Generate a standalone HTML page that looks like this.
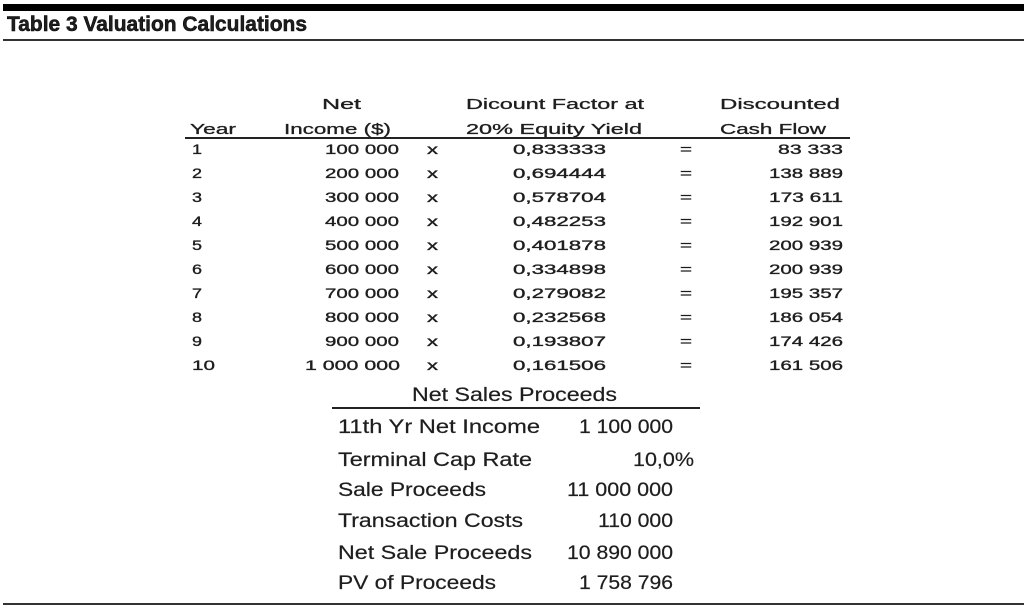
<!DOCTYPE html>
<html><head><meta charset="utf-8"><style>
html,body{margin:0;padding:0;background:#fff;}
svg{display:block;}
.t{font-family:"Liberation Sans",sans-serif;fill:#1e1e1e;}
.u{font-size:14px;stroke:#1e1e1e;stroke-width:0.35px;}
.h{font-size:15px;stroke:#1e1e1e;stroke-width:0.3px;}
.l{font-size:19px;stroke:#1e1e1e;stroke-width:0.2px;}
</style></head><body>
<svg width="1024" height="612" viewBox="0 0 1024 612" xmlns="http://www.w3.org/2000/svg">
<rect x="3" y="4" width="1021" height="7" fill="#000"/>
<text class="t" x="7" y="31" font-size="21" font-weight="bold" textLength="300" lengthAdjust="spacingAndGlyphs" fill="#000" stroke="#000" stroke-width="0.5">Table 3 Valuation Calculations</text>
<rect x="3" y="39" width="1021" height="2" fill="#333"/>

<!-- headers -->
<g class="t h">
<text x="322" y="109" textLength="39" lengthAdjust="spacingAndGlyphs">Net</text>
<text x="466" y="109" textLength="178" lengthAdjust="spacingAndGlyphs">Dicount Factor at</text>
<text x="720" y="109" textLength="120" lengthAdjust="spacingAndGlyphs">Discounted</text>
<text x="190" y="134" textLength="46" lengthAdjust="spacingAndGlyphs">Year</text>
<text x="284" y="134" textLength="107" lengthAdjust="spacingAndGlyphs">Income ($)</text>
<text x="466" y="134" textLength="176" lengthAdjust="spacingAndGlyphs">20% Equity Yield</text>
<text x="720" y="134" textLength="106" lengthAdjust="spacingAndGlyphs">Cash Flow</text>
</g>
<rect x="185" y="137" width="665" height="2" fill="#222"/>

<g class="t u">
<text x="192" y="154" textLength="10" lengthAdjust="spacingAndGlyphs">1</text>
<text x="192" y="178" textLength="10" lengthAdjust="spacingAndGlyphs">2</text>
<text x="192" y="202" textLength="10" lengthAdjust="spacingAndGlyphs">3</text>
<text x="192" y="226" textLength="10" lengthAdjust="spacingAndGlyphs">4</text>
<text x="192" y="250" textLength="10" lengthAdjust="spacingAndGlyphs">5</text>
<text x="192" y="274" textLength="10" lengthAdjust="spacingAndGlyphs">6</text>
<text x="192" y="298" textLength="10" lengthAdjust="spacingAndGlyphs">7</text>
<text x="192" y="322" textLength="10" lengthAdjust="spacingAndGlyphs">8</text>
<text x="192" y="346" textLength="10" lengthAdjust="spacingAndGlyphs">9</text>
<text x="192" y="370" textLength="23" lengthAdjust="spacingAndGlyphs">10</text>

<text x="325" y="154" textLength="74" lengthAdjust="spacingAndGlyphs">100 000</text>
<text x="325" y="178" textLength="74" lengthAdjust="spacingAndGlyphs">200 000</text>
<text x="325" y="202" textLength="74" lengthAdjust="spacingAndGlyphs">300 000</text>
<text x="325" y="226" textLength="74" lengthAdjust="spacingAndGlyphs">400 000</text>
<text x="325" y="250" textLength="74" lengthAdjust="spacingAndGlyphs">500 000</text>
<text x="325" y="274" textLength="74" lengthAdjust="spacingAndGlyphs">600 000</text>
<text x="325" y="298" textLength="74" lengthAdjust="spacingAndGlyphs">700 000</text>
<text x="325" y="322" textLength="74" lengthAdjust="spacingAndGlyphs">800 000</text>
<text x="325" y="346" textLength="74" lengthAdjust="spacingAndGlyphs">900 000</text>
<text x="305" y="370" textLength="95" lengthAdjust="spacingAndGlyphs">1 000 000</text>

<text x="427" y="154" textLength="11" lengthAdjust="spacingAndGlyphs">x</text>
<text x="427" y="178" textLength="11" lengthAdjust="spacingAndGlyphs">x</text>
<text x="427" y="202" textLength="11" lengthAdjust="spacingAndGlyphs">x</text>
<text x="427" y="226" textLength="11" lengthAdjust="spacingAndGlyphs">x</text>
<text x="427" y="250" textLength="11" lengthAdjust="spacingAndGlyphs">x</text>
<text x="427" y="274" textLength="11" lengthAdjust="spacingAndGlyphs">x</text>
<text x="427" y="298" textLength="11" lengthAdjust="spacingAndGlyphs">x</text>
<text x="427" y="322" textLength="11" lengthAdjust="spacingAndGlyphs">x</text>
<text x="427" y="346" textLength="11" lengthAdjust="spacingAndGlyphs">x</text>
<text x="427" y="370" textLength="11" lengthAdjust="spacingAndGlyphs">x</text>

<text x="513" y="154" textLength="93" lengthAdjust="spacingAndGlyphs">0,833333</text>
<text x="513" y="178" textLength="93" lengthAdjust="spacingAndGlyphs">0,694444</text>
<text x="513" y="202" textLength="93" lengthAdjust="spacingAndGlyphs">0,578704</text>
<text x="513" y="226" textLength="93" lengthAdjust="spacingAndGlyphs">0,482253</text>
<text x="513" y="250" textLength="93" lengthAdjust="spacingAndGlyphs">0,401878</text>
<text x="513" y="274" textLength="93" lengthAdjust="spacingAndGlyphs">0,334898</text>
<text x="513" y="298" textLength="93" lengthAdjust="spacingAndGlyphs">0,279082</text>
<text x="513" y="322" textLength="93" lengthAdjust="spacingAndGlyphs">0,232568</text>
<text x="513" y="346" textLength="93" lengthAdjust="spacingAndGlyphs">0,193807</text>
<text x="513" y="370" textLength="93" lengthAdjust="spacingAndGlyphs">0,161506</text>

<text x="680" y="154" textLength="12" lengthAdjust="spacingAndGlyphs">=</text>
<text x="680" y="178" textLength="12" lengthAdjust="spacingAndGlyphs">=</text>
<text x="680" y="202" textLength="12" lengthAdjust="spacingAndGlyphs">=</text>
<text x="680" y="226" textLength="12" lengthAdjust="spacingAndGlyphs">=</text>
<text x="680" y="250" textLength="12" lengthAdjust="spacingAndGlyphs">=</text>
<text x="680" y="274" textLength="12" lengthAdjust="spacingAndGlyphs">=</text>
<text x="680" y="298" textLength="12" lengthAdjust="spacingAndGlyphs">=</text>
<text x="680" y="322" textLength="12" lengthAdjust="spacingAndGlyphs">=</text>
<text x="680" y="346" textLength="12" lengthAdjust="spacingAndGlyphs">=</text>
<text x="680" y="370" textLength="12" lengthAdjust="spacingAndGlyphs">=</text>

<text x="778" y="154" textLength="65" lengthAdjust="spacingAndGlyphs">83 333</text>
<text x="769" y="178" textLength="74" lengthAdjust="spacingAndGlyphs">138 889</text>
<text x="769" y="202" textLength="74" lengthAdjust="spacingAndGlyphs">173 611</text>
<text x="769" y="226" textLength="74" lengthAdjust="spacingAndGlyphs">192 901</text>
<text x="769" y="250" textLength="74" lengthAdjust="spacingAndGlyphs">200 939</text>
<text x="769" y="274" textLength="74" lengthAdjust="spacingAndGlyphs">200 939</text>
<text x="769" y="298" textLength="74" lengthAdjust="spacingAndGlyphs">195 357</text>
<text x="769" y="322" textLength="74" lengthAdjust="spacingAndGlyphs">186 054</text>
<text x="769" y="346" textLength="74" lengthAdjust="spacingAndGlyphs">174 426</text>
<text x="769" y="370" textLength="74" lengthAdjust="spacingAndGlyphs">161 506</text>
</g>

<!-- lower section -->
<g class="t l">
<text x="412" y="401" textLength="205" lengthAdjust="spacingAndGlyphs">Net Sales Proceeds</text>
<text x="338" y="433" textLength="202" lengthAdjust="spacingAndGlyphs">11th Yr Net Income</text>
<text x="338" y="466" textLength="194" lengthAdjust="spacingAndGlyphs">Terminal Cap Rate</text>
<text x="338" y="496" textLength="148" lengthAdjust="spacingAndGlyphs">Sale Proceeds</text>
<text x="338" y="527" textLength="185" lengthAdjust="spacingAndGlyphs">Transaction Costs</text>
<text x="338" y="559" textLength="194" lengthAdjust="spacingAndGlyphs">Net Sale Proceeds</text>
<text x="338" y="589" textLength="158" lengthAdjust="spacingAndGlyphs">PV of Proceeds</text>

<text x="579" y="433" textLength="94" lengthAdjust="spacingAndGlyphs">1 100 000</text>
<text x="633" y="466" textLength="61" lengthAdjust="spacingAndGlyphs">10,0%</text>
<text x="567" y="496" textLength="106" lengthAdjust="spacingAndGlyphs">11 000 000</text>
<text x="598" y="527" textLength="75" lengthAdjust="spacingAndGlyphs">110 000</text>
<text x="567" y="559" textLength="106" lengthAdjust="spacingAndGlyphs">10 890 000</text>
<text x="579" y="589" textLength="94" lengthAdjust="spacingAndGlyphs">1 758 796</text>
</g>
<rect x="332" y="407" width="368" height="2" fill="#222"/>

<rect x="3" y="603" width="1021" height="2" fill="#333"/>
</svg>
</body></html>
